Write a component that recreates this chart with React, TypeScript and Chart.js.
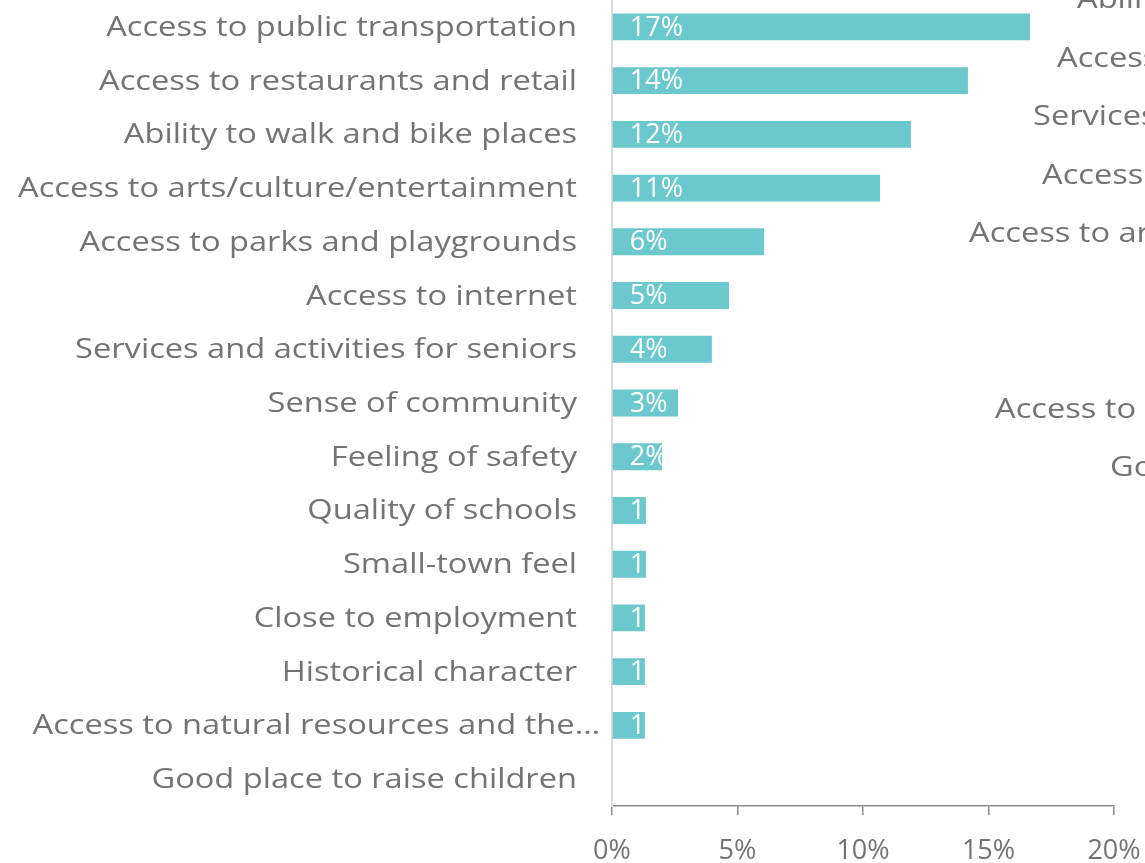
import React, { useEffect, useRef } from "react";
import { Chart, registerables } from "chart.js";

Chart.register(...registerables);

const categories = [
  "Access to public transportation",
  "Access to restaurants and retail",
  "Ability to walk and bike places",
  "Access to arts/culture/entertainment",
  "Access to parks and playgrounds",
  "Access to internet",
  "Services and activities for seniors",
  "Sense of community",
  "Feeling of safety",
  "Quality of schools",
  "Small-town feel",
  "Close to employment",
  "Historical character",
  "Access to natural resources and the…",
  "Good place to raise children",
];

const values = [16.65, 14.18, 11.91, 10.68, 6.06, 4.66, 3.98, 2.63, 1.99, 1.35, 1.35, 1.31, 1.31, 1.31, 0];

const xTicks = [0, 5, 10, 15, 20];

// Labels of a neighbouring chart, cut off at the right edge of the page
const sideLabels = [
  "Ability to walk and bike places",
  "Access to restaurants and retail",
  "Services and activities for seniors",
  "Access to parks and playgrounds",
  "Access to arts/culture/entertainment",
  "",
  "",
  "Access to natural resources and the environment",
  "Good place to raise children",
];
const sideLabelX = [1077, 1057, 1033, 1042, 969, 0, 0, 995, 1110];

const FONT = "'Open Sans', Lato, sans-serif";
const GREY = "#737373";
const BAR = "#6BC8CC";
const LABEL_SIZE = 28;
const STRETCH = 1.165;

const barLabelPlugin = {
  id: "barLabels",
  afterDatasetsDraw(chart: any) {
    const ctx = chart.ctx;
    const meta = chart.getDatasetMeta(0);
    meta.data.forEach((bar: any, i: number) => {
      const v = values[i];
      if (!v) return;
      const left = bar.base;
      const right = bar.x;
      const h = bar.height;
      ctx.save();
      ctx.beginPath();
      ctx.rect(left, bar.y - h / 2, right - left, h);
      ctx.clip();
      ctx.fillStyle = "#ffffff";
      ctx.font = `27px ${FONT}`;
      ctx.textAlign = "left";
      ctx.textBaseline = "middle";
      ctx.fillText(`${Math.round(v)}%`, left + 17, bar.y + 1);
      ctx.restore();
    });
  },
  afterDraw(chart: any) {
    const ctx = chart.ctx;
    const yScale = chart.scales.y;
    ctx.save();
    ctx.fillStyle = GREY;
    ctx.font = `${LABEL_SIZE}px ${FONT}`;
    ctx.textBaseline = "middle";
    // category labels
    const right = chart.chartArea.left - 35;
    categories.forEach((t, i) => {
      const y = yScale.getPixelForTick(i);
      const overflow = t.endsWith("…") ? 23 : 0;
      ctx.save();
      ctx.translate(right + overflow, y + 1);
      ctx.scale(STRETCH, 1);
      ctx.textAlign = "right";
      ctx.fillText(t, 0, 0);
      ctx.restore();
    });
    // neighbouring chart labels (cut off)
    sideLabels.forEach((t, i) => {
      if (!t) return;
      ctx.save();
      ctx.translate(sideLabelX[i], 0.5 + i * 58.5);
      ctx.scale(STRETCH, 1);
      ctx.textAlign = "left";
      ctx.fillText(t, 0, 0);
      ctx.restore();
    });
    ctx.restore();
  },
};

export default function App() {
  const ref = useRef<HTMLCanvasElement | null>(null);
  useEffect(() => {
    document.body.style.margin = "0";
    if (!ref.current) return;
    const chart = new Chart(ref.current, {
      type: "bar",
      data: {
        labels: categories,
        datasets: [
          {
            data: values,
            backgroundColor: BAR,
            borderWidth: 0,
            categoryPercentage: 1,
            barPercentage: 0.5,
          },
        ],
      },
      options: {
        indexAxis: "y",
        animation: false,
        responsive: false,
        maintainAspectRatio: false,
        layout: { padding: { top: 0, right: 31, bottom: 0, left: 0 } },
        plugins: {
          legend: { display: false },
          tooltip: { enabled: false },
        },
        scales: {
          x: {
            min: 0,
            max: 20,
            afterBuildTicks: (scale: any) => {
              scale.ticks = xTicks.map((v) => ({ value: v }));
            },
            afterFit: (scale: any) => {
              scale.height = 57;
              scale.paddingLeft = 0;
              scale.paddingRight = 0;
            },
            grid: {
              display: true,
              drawOnChartArea: false,
              drawTicks: true,
              tickLength: 9,
              color: "#8c8c8c",
              lineWidth: 1.5,
            },
            border: { display: true, color: "#8c8c8c", width: 1.5 },
            ticks: {
              color: GREY,
              font: { family: FONT, size: 27 },
              padding: 20,
              maxRotation: 0,
              callback: (v: any) => `${v}%`,
            },
          },
          y: {
            afterFit: (scale: any) => {
              scale.width = 612;
              scale.paddingTop = 0;
              scale.paddingBottom = 0;
            },
            grid: { display: false, drawTicks: false },
            border: { display: true, color: "#d9d9d9", width: 2 },
            ticks: { display: false, autoSkip: false },
          },
        },
      },
      plugins: [barLabelPlugin],
    } as any);
    return () => chart.destroy();
  }, []);
  return (
    <div style={{ width: 1145, height: 863 }}>
      <canvas ref={ref} width={1145} height={863} style={{ display: "block" }} />
    </div>
  );
}
